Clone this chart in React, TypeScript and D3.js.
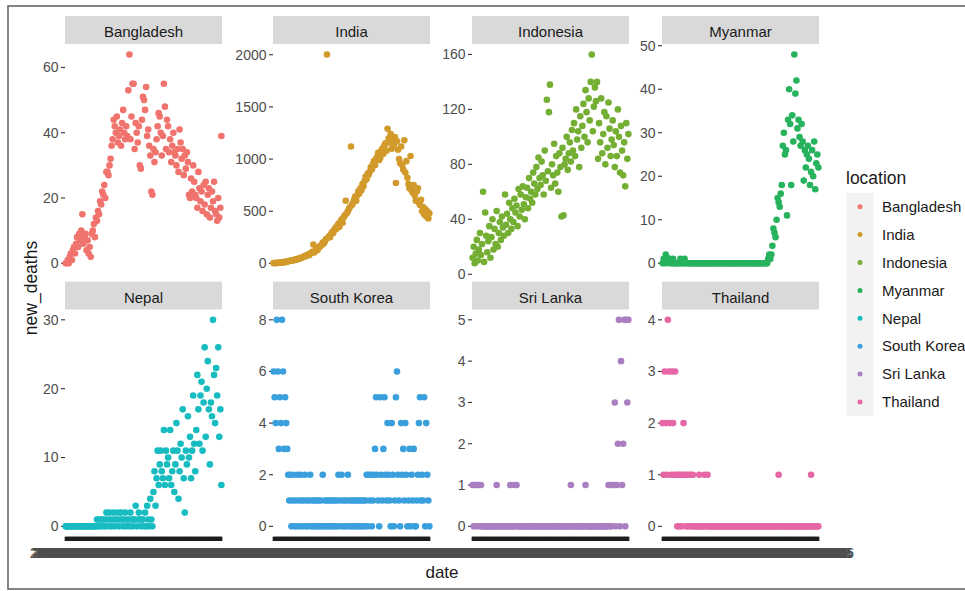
import React from 'react';
import * as d3 from 'd3';

// facet order and the ggplot hue colours (a bit muted, like the picture)
const locations = ['Bangladesh', 'India', 'Indonesia', 'Myanmar', 'Nepal', 'South Korea', 'Sri Lanka', 'Thailand'];
const colors = ['#F0736D', '#D29A2B', '#74AE33', '#27B35E', '#17BCC1', '#3A9FDD', '#A97FC1', '#E666A6'];

// daily new_deaths, one value per date
const bangladesh = [
  0, 0, 1, 0, 2, 3, 1, 4, 5, 3, 6, 8, 5, 9, 7,
  10, 15, 6, 8, 9, 4, 7, 3, 5, 2, 9, 10, 12, 8, 14,
  13, 16, 15, 19, 18, 22, 21, 24, 20, 28, 28, 27, 30, 32, 36,
  38, 44, 42, 40, 45, 37, 39, 41, 36, 43, 47, 40, 38, 42, 39,
  53, 64, 38, 45, 55, 55, 35, 43, 40, 37, 42, 30, 29, 44, 51,
  50, 47, 54, 39, 41, 36, 33, 22, 21, 35, 31, 34, 38, 42, 46,
  45, 40, 33, 39, 55, 48, 35, 44, 42, 34, 38, 31, 36, 40, 34,
  33, 30, 35, 28, 41, 37, 32, 35, 27, 33, 29, 34, 31, 21, 20,
  26, 22, 30, 25, 21, 20, 17, 28, 23, 19, 22, 16, 24, 18, 25,
  15, 21, 23, 14, 17, 22, 19, 25, 16, 15, 13, 20, 14, 17, 39,
];
const india = [
  2, 3, 1, 5, 4, 6, 8, 7, 10, 12, 9, 15, 14, 18, 20,
  22, 25, 27, 30, 28, 35, 38, 34, 42, 45, 50, 48, 56, 60, 65,
  70, 68, 80, 85, 78, 95, 100, 110, 180, 105, 120, 135, 128, 150, 160,
  170, 175, 200, 190, 210, 230, 2003, 245, 260, 250, 280, 300, 290, 320, 340,
  330, 360, 380, 350, 400, 420, 390, 440, 460, 600, 480, 500, 520, 540, 1120,
  560, 580, 610, 640, 600, 650, 690, 670, 720, 700, 760, 740, 790, 830, 810,
  860, 850, 880, 920, 900, 950, 980, 940, 1000, 1020, 1060, 990, 1010, 1080, 1100,
  1050, 1130, 1150, 1080, 1290, 1200, 1160, 1240, 1100, 1180, 1140, 1210, 770, 1170, 1090,
  1000, 960, 1120, 940, 900, 1180, 870, 980, 820, 760, 720, 1030, 700, 680, 750,
  650, 600, 690, 720, 580, 560, 610, 500, 540, 470, 520, 450, 500, 430, 480,
];
const indonesia = [
  12, 20, 8, 15, 25, 10, 18, 30, 14, 22, 60, 9, 45, 28, 16,
  24, 35, 12, 27, 40, 18, 33, 22, 46, 20, 30, 38, 25, 42, 34,
  28, 58, 36, 44, 30, 52, 40, 33, 48, 38, 55, 45, 50, 35, 62,
  42, 58, 47, 64, 51, 40, 56, 63, 48, 70, 55, 60, 52, 74, 66,
  58, 78, 62, 85, 70, 65, 82, 72, 58, 90, 68, 127, 75, 118, 138,
  63, 80, 72, 95, 66, 86, 74, 60, 88, 78, 42, 92, 43, 80, 84,
  100, 76, 88, 96, 82, 105, 90, 110, 86, 120, 98, 104, 78, 115, 92,
  108, 124, 100, 134, 118, 96, 128, 112, 140, 160, 104, 122, 136, 126, 140,
  84, 110, 96, 128, 88, 102, 118, 80, 115, 92, 125, 106, 86, 98, 112,
  94, 78, 104, 86, 120, 100, 74, 108, 90, 72, 96, 64, 110, 84, 102,
];
const myanmar = [
  0, 1, 0, 2, 1, 0, 1, 1, 0, 0, 1, 0, 0, 0, 0,
  0, 0, 1, 0, 0, 0, 1, 0, 0, 0, 0, 0, 0, 0, 0,
  0, 0, 0, 0, 0, 0, 0, 0, 0, 0, 0, 0, 0, 0, 0,
  0, 0, 0, 0, 0, 0, 0, 0, 0, 0, 0, 0, 0, 0, 0,
  0, 0, 0, 0, 0, 0, 0, 0, 0, 0, 0, 0, 0, 0, 0,
  0, 0, 0, 0, 0, 0, 0, 0, 0, 0, 0, 0, 0, 0, 0,
  0, 0, 0, 0, 0, 0, 0, 0, 0, 0, 0, 1, 2, 1, 2,
  4, 8, 7, 6, 10, 15, 14, 13, 16, 18, 27, 30, 25, 26, 11,
  33, 40, 32, 18, 34, 28, 48, 39, 42, 31, 33, 29, 27, 32, 28,
  19, 26, 22, 25, 27, 24, 18, 21, 26, 20, 28, 17, 23, 25, 22,
];
const nepal = [
  0, 0, 0, 0, 0, 0, 0, 0, 0, 0, 0, 0, 0, 0, 0,
  0, 0, 0, 0, 0, 0, 0, 0, 0, 0, 0, 0, 0, 0, 0,
  1, 0, 1, 0, 1, 1, 0, 1, 0, 2, 1, 0, 2, 1, 0,
  1, 2, 0, 1, 1, 2, 0, 1, 2, 1, 0, 1, 2, 0, 1,
  1, 0, 2, 1, 0, 1, 1, 3, 0, 1, 2, 1, 0, 1, 1,
  0, 2, 0, 3, 1, 0, 4, 1, 0, 5, 8, 3, 7, 11, 6,
  9, 11, 8, 7, 14, 6, 11, 9, 10, 7, 14, 6, 8, 11, 5,
  9, 15, 11, 4, 8, 12, 10, 17, 7, 2, 11, 9, 16, 10, 13,
  7, 11, 19, 12, 8, 14, 22, 17, 12, 19, 21, 11, 18, 26, 13,
  20, 24, 17, 9, 18, 16, 30, 22, 15, 23, 19, 26, 13, 17, 6,
];
const southKorea = [
  6, 5, 4, 8, 6, 3, 5, 4, 8, 6, 3, 5, 4, 3, 2,
  1, 2, 0, 1, 2, 0, 1, 0, 2, 1, 0, 2, 1, 0, 1,
  2, 0, 1, 0, 1, 2, 0, 1, 0, 1, 0, 1, 0, 1, 0,
  1, 0, 2, 0, 1, 0, 1, 0, 1, 0, 1, 0, 1, 0, 1,
  0, 1, 2, 0, 1, 2, 0, 1, 0, 1, 0, 2, 1, 0, 1,
  0, 1, 0, 1, 0, 1, 0, 1, 0, 1, 0, 1, 0, 1, 2,
  0, 2, 1, 2, 0, 1, 2, 3, 5, 2, 1, 0, 5, 2, 1,
  3, 5, 2, 1, 4, 2, 1, 0, 4, 2, 0, 1, 5, 6, 2,
  1, 0, 4, 2, 3, 1, 4, 2, 0, 1, 3, 0, 2, 1, 3,
  0, 0, 1, 2, 4, 5, 1, 2, 1, 5, 0, 4, 2, 1, 0,
];
const sriLanka = [
  1, 0, 1, 1, 0, 1, 1, 0, 1, 0, 0, 0, 0, 0, 0,
  0, 0, 0, 0, 0, 0, 0, 0, 1, 0, 0, 0, 0, 0, 0,
  0, 0, 0, 0, 0, 0, 1, 0, 0, 0, 1, 0, 1, 0, 0,
  0, 0, 0, 0, 0, 0, 0, 0, 0, 0, 0, 0, 0, 0, 0,
  0, 0, 0, 0, 0, 0, 0, 0, 0, 0, 0, 0, 0, 0, 0,
  0, 0, 0, 0, 0, 0, 0, 0, 0, 0, 0, 0, 0, 0, 0,
  0, 0, 0, 0, 1, 0, 0, 0, 0, 0, 0, 0, 0, 0, 0,
  0, 0, 0, 1, 0, 0, 0, 0, 0, 0, 0, 0, 0, 0, 0,
  0, 0, 0, 0, 0, 0, 0, 0, 0, 0, 1, 0, 1, 0, 1,
  1, 3, 0, 1, 2, 5, 0, 4, 1, 2, 5, 0, 5, 3, 5,
];
const thailand = [
  2, 1, 3, 2, 1, 4, 3, 2, 1, 3, 2, 1, 3, 1, 0,
  1, 0, 1, 0, 1, 2, 1, 0, 1, 0, 1, 0, 1, 0, 1,
  0, 0, 0, 0, 0, 1, 0, 0, 0, 0, 1, 0, 0, 1, 0,
  0, 0, 0, 0, 0, 0, 0, 0, 0, 0, 0, 0, 0, 0, 0,
  0, 0, 0, 0, 0, 0, 0, 0, 0, 0, 0, 0, 0, 0, 0,
  0, 0, 0, 0, 0, 0, 0, 0, 0, 0, 0, 0, 0, 0, 0,
  0, 0, 0, 0, 0, 0, 0, 0, 0, 0, 0, 0, 0, 0, 0,
  0, 0, 0, 0, 0, 0, 1, 0, 0, 0, 0, 0, 0, 0, 0,
  0, 0, 0, 0, 0, 0, 0, 0, 0, 0, 0, 0, 0, 0, 0,
  0, 0, 0, 0, 0, 0, 0, 1, 0, 0, 0, 0, 0, 0, 0,
];
const series = [bangladesh, india, indonesia, myanmar, nepal, southKorea, sriLanka, thailand];

// y breaks for each facet (free scales)
const yTicks = [
  [0, 20, 40, 60],
  [0, 500, 1000, 1500, 2000],
  [0, 40, 80, 120, 160],
  [0, 10, 20, 30, 40, 50],
  [0, 10, 20, 30],
  [0, 2, 4, 6, 8],
  [0, 1, 2, 3, 4, 5],
  [0, 1, 2, 3, 4],
];

// x is the date as a discrete axis, one label per day
const startDay = new Date(2020, 2, 10);
const dates = d3.timeDay
  .range(startDay, d3.timeDay.offset(startDay, bangladesh.length))
  .map(d3.timeFormat('%Y-%m-%d'));

const W = 965;
const H = 591;
const font = "'Liberation Sans', Arial, sans-serif";
const panelLefts = [65, 273, 472, 662];
const panelW = 157;
const rows = [
  { stripTop: 16, top: 44, bottom: 273.7 },
  { stripTop: 281.7, top: 309.5, bottom: 536.7 },
];

const App = () => {
  const x = d3.scalePoint<string>().domain(dates).range([0, panelW]).padding(0.6);

  const panels = series.map((vals, i) => {
    const row = rows[Math.floor(i / 4)];
    const left = panelLefts[i % 4];
    const lo = d3.min(vals) as number;
    const hi = d3.max(vals) as number;
    const pad = (hi - lo) * 0.05;
    const y = d3.scaleLinear().domain([lo - pad, hi + pad]).range([row.bottom, row.top]);
    const isBottom = i >= 4;

    return (
      <g key={locations[i]}>
        {/* strip */}
        <rect x={left} y={row.stripTop} width={panelW} height={row.top - row.stripTop} fill="#D9D9D9" />
        <text x={left + panelW / 2} y={row.stripTop + 20.8} textAnchor="middle" fontSize={15} fill="#1A1A1A">
          {locations[i]}
        </text>

        {/* y axis */}
        {yTicks[i].map(t => (
          <g key={t}>
            <line x1={left - 4} x2={left} y1={y(t)} y2={y(t)} stroke="#333" strokeWidth={1.1} />
            <text x={left - 6.5} y={y(t)} dy="0.35em" textAnchor="end" fontSize={14} fill="#4D4D4D">
              {t}
            </text>
          </g>
        ))}

        {/* points */}
        {vals.map((v, j) => (
          <circle key={j} cx={left + (x(dates[j]) as number)} cy={y(v)} r={3.3} fill={colors[i]} />
        ))}

        {/* x axis only under the bottom row: the daily ticks merge into a bar */}
        {isBottom && dates.map(d => (
          <line key={'t' + d} x1={left + (x(d) as number)} x2={left + (x(d) as number)}
            y1={row.bottom} y2={row.bottom + 4.3} stroke="#1E1E1E" strokeWidth={2} />
        ))}
        {isBottom && dates.map(d => (
          <text key={'l' + d} x={left + (x(d) as number)} y={557.5} textAnchor="middle" fontSize={14} fill="#4D4D4D">
            {d}
          </text>
        ))}
      </g>
    );
  });

  return (
    <svg width={W} height={H} style={{ position: 'absolute', left: 0, top: 0 }} fontFamily={font}>
      <rect x={0} y={0} width={W} height={H} fill="#fff" />
      {panels}

      {/* axis titles */}
      <text x={442} y={578} textAnchor="middle" fontSize={17} fill="#1A1A1A">date</text>
      <text transform="translate(37,288) rotate(-90)" textAnchor="middle" fontSize={17.5} fill="#1A1A1A">new_deaths</text>

      {/* legend */}
      <text x={846} y={184} fontSize={17.5} fill="#1A1A1A">location</text>
      {locations.map((loc, i) => {
        const cy = 206.7 + i * 27.9;
        return (
          <g key={loc}>
            <rect x={846.5} y={cy - 13.95} width={27} height={27.9} fill="#F2F2F2" />
            <circle cx={860} cy={cy} r={2.5} fill={colors[i]} />
            <text x={882} y={cy} dy="0.35em" fontSize={15} fill="#1A1A1A">{loc}</text>
          </g>
        );
      })}

      {/* frame around the screenshot */}
      <rect x={8} y={6} width={962} height={583} fill="none" stroke="#666" strokeWidth={1.6} />
    </svg>
  );
};

export default App;
